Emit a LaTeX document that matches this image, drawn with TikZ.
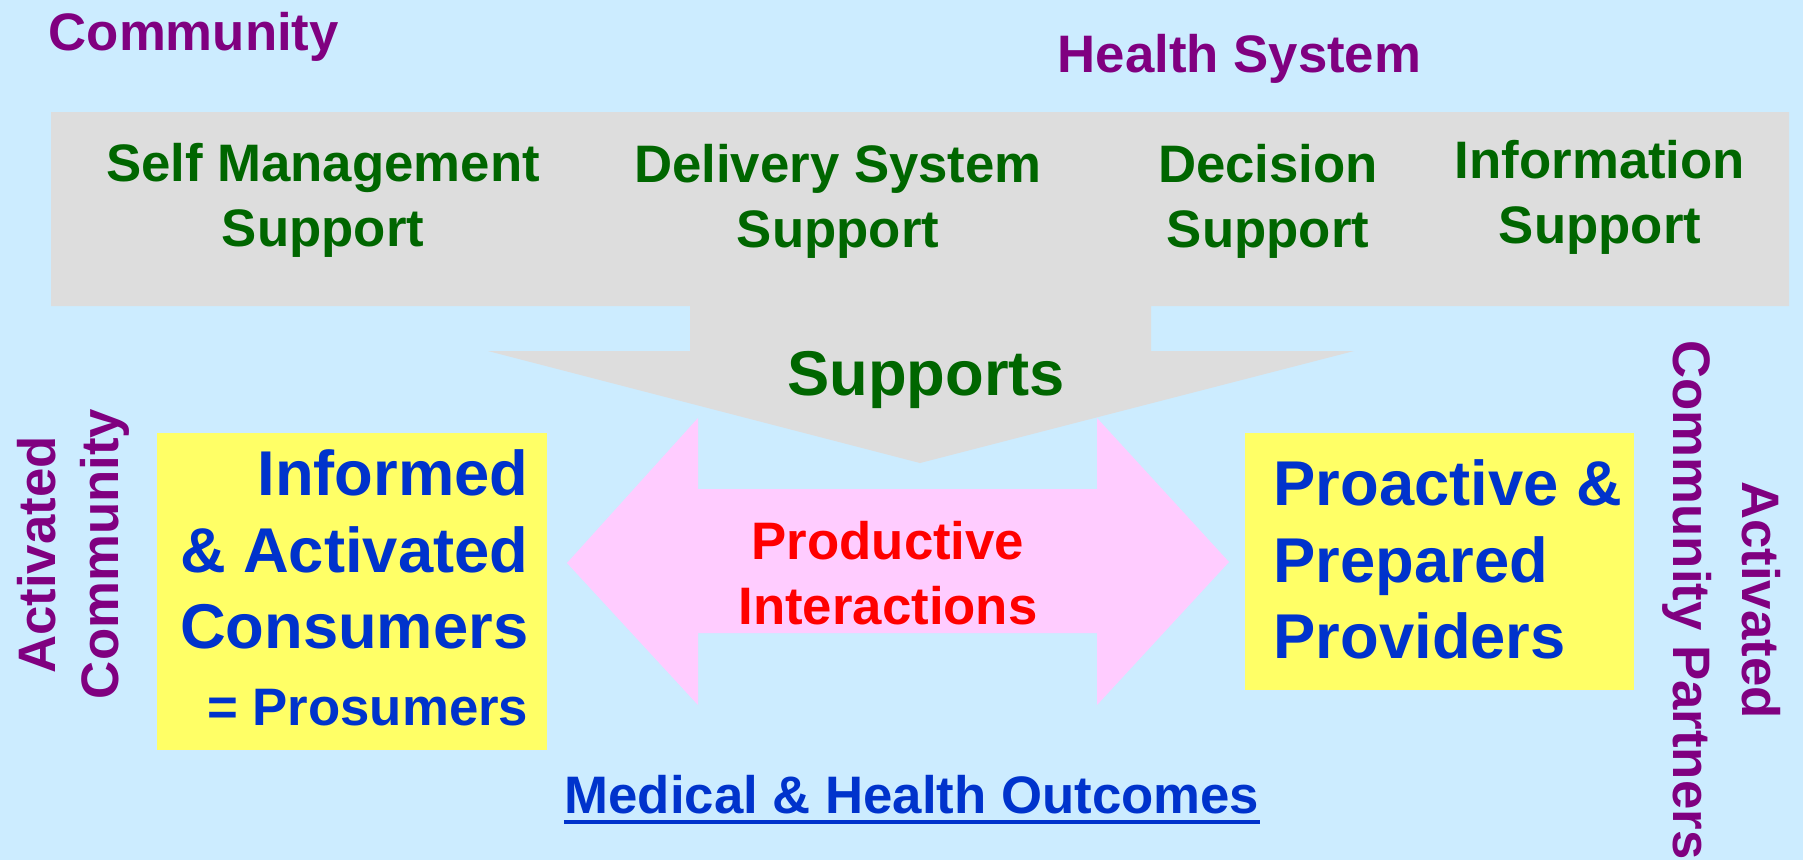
\documentclass[tikz,border=0pt]{standalone}
\usepackage{fontspec}
\setmainfont{Liberation Sans}

\definecolor{skyback}{HTML}{CCECFF}
\definecolor{supportgrey}{HTML}{DDDDDD}
\definecolor{interpink}{HTML}{FFCCFF}
\definecolor{boxyellow}{HTML}{FFFF66}
\definecolor{supportgreen}{HTML}{006600}
\definecolor{regionpurple}{HTML}{800080}
\definecolor{actorblue}{HTML}{0033CC}

\begin{document}
\begin{tikzpicture}[x = 0.01 cm, y = -0.01 cm,
	label15/.style = {font = \bfseries\fontsize{15}{18.5}\selectfont, inner sep = 0},
	label18/.style = {font = \bfseries\fontsize{18}{21.8}\selectfont, inner sep = 0},
	region/.style = {label15, text = regionpurple},
	element/.style = {label15, text = supportgreen, align = center, anchor = north},
	actor/.style = {label18, text = actorblue}]

	\useasboundingbox (0, 0) rectangle (1803, 860);
	\fill [skyback] (0, 0) rectangle (1803, 860);

	% supports band with its arrow
	\fill [supportgrey] (51, 112) -- (1789, 112) -- (1789, 306) -- (1151, 306) -- (1151, 351) -- (1354, 351)
		-- (920, 463) -- (488, 351) -- (690, 351) -- (690, 306) -- (51, 306) -- cycle;

	% double arrow
	\fill [interpink] (567, 563) -- (698, 418) -- (698, 489) -- (1097, 489) -- (1097, 418) -- (1229, 562)
		-- (1097, 705) -- (1097, 633) -- (698, 633) -- (698, 705) -- cycle;

	\fill [boxyellow] (157, 433) rectangle (547, 750);
	\fill [boxyellow] (1245, 433) rectangle (1634, 690);

	\node [region, anchor = base west] (community) at (48, 50) {Community};
	\node [region, anchor = base west] (healthsystem) at (1057, 72) {Health System};

	\node [element] (selfmanagement) at (323, 143) {Self Management\\Support};
	\node [element] (delivery) at (838, 144) {Delivery System\\Support};
	\node [element] (decision) at (1268, 144) {Decision\\Support};
	\node [element] (information) at (1600, 140) {Information\\Support};

	\node [label18, text = supportgreen, anchor = base] (supports) at (926, 395) {Supports};

	\node [label15, text = red, align = center, anchor = north] (interactions) at (888, 521) {Productive\\Interactions};

	\node [actor, align = right, anchor = north east] (consumers) at (529, 449)
		{Informed\\\& Activated\\Consumers\\{\fontsize{15}{18.5}\selectfont = Prosumers}};
	\node [actor, align = left, anchor = north west] (providers) at (1273, 459) {Proactive \&\\Prepared\\Providers};

	\node [label15, text = actorblue, anchor = base] (outcomes) at (912, 813) {Medical \& Health Outcomes};
	\draw [actorblue, line width = 1.1pt] ([yshift = -2.6pt] outcomes.base west) -- ([yshift = -2.6pt] outcomes.base east);

	% side labels
	\node [region, rotate = 90, anchor = base] (activatedleft) at (55, 555) {Activated};
	\node [region, rotate = 90, anchor = base] (communityleft) at (118, 554) {Community};
	\node [region, rotate = -90, anchor = base] (activatedright) at (1742, 600) {Activated};
	\node [region, rotate = -90, anchor = base] (partners) at (1673, 600) {Community Partners};

\end{tikzpicture}
\end{document}
